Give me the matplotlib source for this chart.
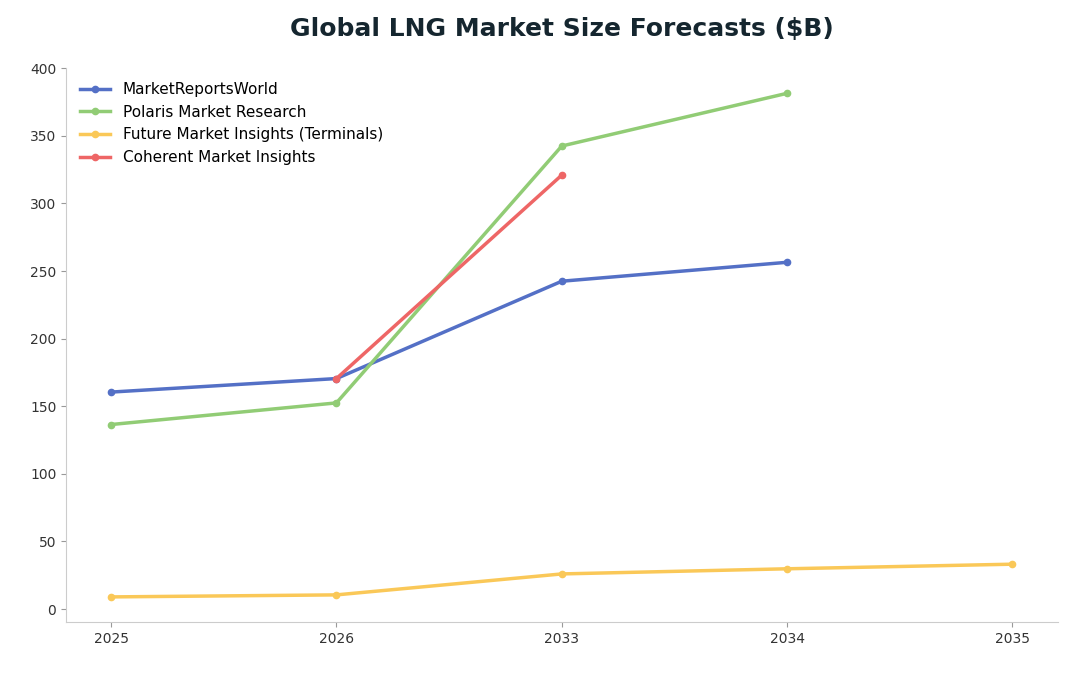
import matplotlib
matplotlib.use("Agg")
import matplotlib.pyplot as plt

years = ["2025", "2026", "2033", "2034", "2035"]
market_reports_world = [160.5, 170.5, 242.5, 256.5, None]
polaris = [136.5, 152.5, 342.5, 381.5, None]
future_market_insights = [9.0, 10.5, 26.0, 29.8, 33.2]
coherent = [None, 170.5, 321.0, None, None]

series = [
    ("MarketReportsWorld", market_reports_world, "#5470c6"),
    ("Polaris Market Research", polaris, "#91cc75"),
    ("Future Market Insights (Terminals)", future_market_insights, "#fac858"),
    ("Coherent Market Insights", coherent, "#ee6666"),
]

fig = plt.figure(figsize=(10.88, 6.76), dpi=100)
ax = fig.add_axes([0.0607, 0.08, 0.9113, 0.819])

for name, vals, color in series:
    xs = [i for i, v in enumerate(vals) if v is not None]
    ys = [v for v in vals if v is not None]
    ax.plot(xs, ys, color=color, lw=2.5, marker="o", ms=4.5, label=name)

ax.set_xticks(range(len(years)))
ax.set_xticklabels(years)
ax.set_xlim(-0.2, 4.2)
ax.set_ylim(-9.5, 400)
ax.set_yticks(range(0, 401, 50))
for s in ("top", "right"):
    ax.spines[s].set_visible(False)
for s in ("left", "bottom"):
    ax.spines[s].set_color("#cccccc")
ax.tick_params(colors="#333333", labelsize=10)
ax.tick_params(axis="both", color="#999999")

ax.legend(loc="upper left", frameon=False, fontsize=11)
fig.suptitle("Global LNG Market Size Forecasts ($B)", fontsize=18,
             fontweight="bold", color="#15262f", x=0.516, y=0.975)

fig.savefig("out.png", dpi=100)
